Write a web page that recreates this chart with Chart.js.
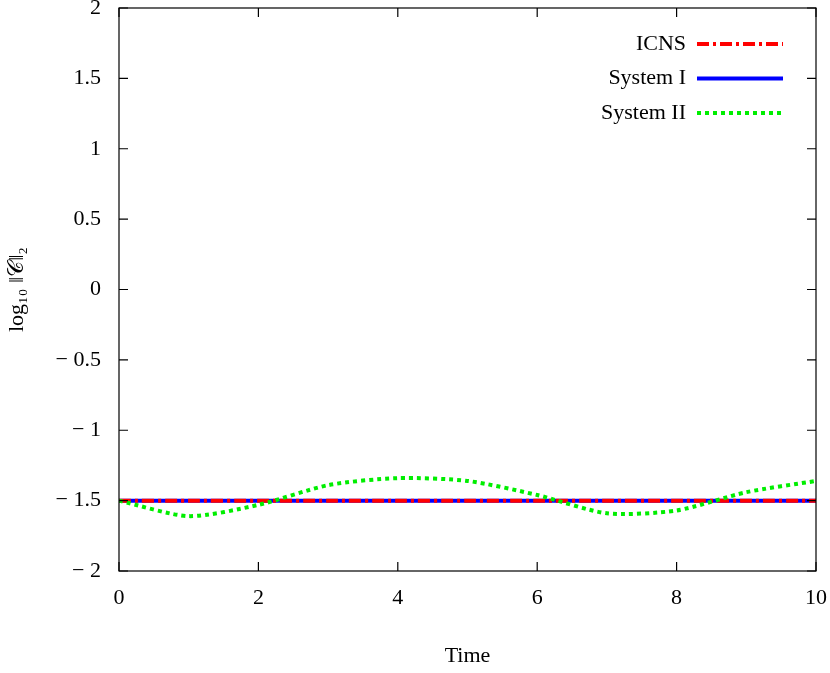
<!DOCTYPE html><html><head><meta charset="utf-8">
<script src="https://cdn.jsdelivr.net/npm/chart.js@4"></script>
<style>body{margin:0;background:#fff}#w{width:830px;height:673px}</style></head><body>
<div id="w"><canvas id="c"></canvas></div>
<script>
const times=[0,1,2,3,4,5,6,7,8,9,10];
const icns=[-1.5,-1.5,-1.5,-1.5,-1.5,-1.5,-1.5,-1.5,-1.5,-1.5,-1.5];
const sys1=[-1.5,-1.5,-1.5,-1.5,-1.5,-1.5,-1.5,-1.5,-1.5,-1.5,-1.5];
const sys2=[-1.50,-1.61,-1.53,-1.39,-1.34,-1.36,-1.46,-1.59,-1.57,-1.44,-1.36];
const labels=['ICNS','System I','System II'];
const F='"Liberation Serif", serif';
const pts=a=>a.map((v,i)=>({x:times[i],y:v}));
const fmt=v=>v<0?'\u2212 '+Math.abs(v):String(v);
const ds=[
 {label:labels[1],data:pts(sys1),borderColor:'#0000ff',borderWidth:4,order:3},
 {label:labels[0],data:pts(icns),borderColor:'#ff0000',borderWidth:4,borderDash:[12,4,3,4],order:2},
 {label:labels[2],data:pts(sys2),borderColor:'#00ee00',borderWidth:4,borderDash:[4,4],order:1}];
const deco={id:'deco',afterDraw(ch){const c=ch.ctx,a=ch.chartArea,xs=ch.scales.x,ys=ch.scales.y;c.save();
 c.strokeStyle='#000';c.lineWidth=1.2;c.strokeRect(a.left,a.top,a.right-a.left,a.bottom-a.top);
 c.beginPath();for(let t=0;t<=10;t+=2){const p=xs.getPixelForValue(t);c.moveTo(p,a.bottom);c.lineTo(p,a.bottom-9);c.moveTo(p,a.top);c.lineTo(p,a.top+9);}
 for(let v=-2;v<=2;v+=0.5){const p=ys.getPixelForValue(v);c.moveTo(a.left,p);c.lineTo(a.left+9,p);c.moveTo(a.right,p);c.lineTo(a.right-9,p);}c.stroke();
 const ent=[[labels[0],'#ff0000',[12,4,3,4],4],[labels[1],'#0000ff',[],4],[labels[2],'#00ee00',[4,4],4]];
 c.font='22px '+F;c.fillStyle='#000';c.textAlign='right';c.textBaseline='middle';
 ent.forEach((e,i)=>{const y=44+i*34.5;c.fillText(e[0],686,y);c.beginPath();c.setLineDash(e[2]);c.strokeStyle=e[1];c.lineWidth=e[3];c.moveTo(697,y);c.lineTo(783,y);c.stroke();});
 c.restore();}};
new Chart(document.getElementById('c'),{type:'line',data:{datasets:ds},plugins:[deco],
options:{responsive:true,maintainAspectRatio:false,animation:false,layout:{padding:{top:8,right:14}},
elements:{point:{radius:0},line:{tension:0.25}},
plugins:{legend:{display:false},tooltip:{enabled:false}},
scales:{x:{type:'linear',min:0,max:10,afterFit:s=>{s.height=102;s.paddingRight=0},ticks:{stepSize:2,color:'#000',font:{family:F,size:22},padding:6},grid:{display:false},border:{display:false},
 title:{display:true,text:'Time',color:'#000',font:{family:F,size:22},padding:{top:20}}},
y:{min:-2,max:2,afterFit:s=>{s.width=119;s.paddingTop=0;s.paddingBottom=0},ticks:{stepSize:0.5,color:'#000',font:{family:F,size:22},padding:10,callback:v=>fmt(v)},grid:{display:false},border:{display:false},
 title:{display:true,text:'log\u2081\u2080 \u2016\uD835\uDC9E\u2016\u2082',color:'#000',font:{family:F,size:22},padding:{bottom:2}}}}}});
</script></body></html>
